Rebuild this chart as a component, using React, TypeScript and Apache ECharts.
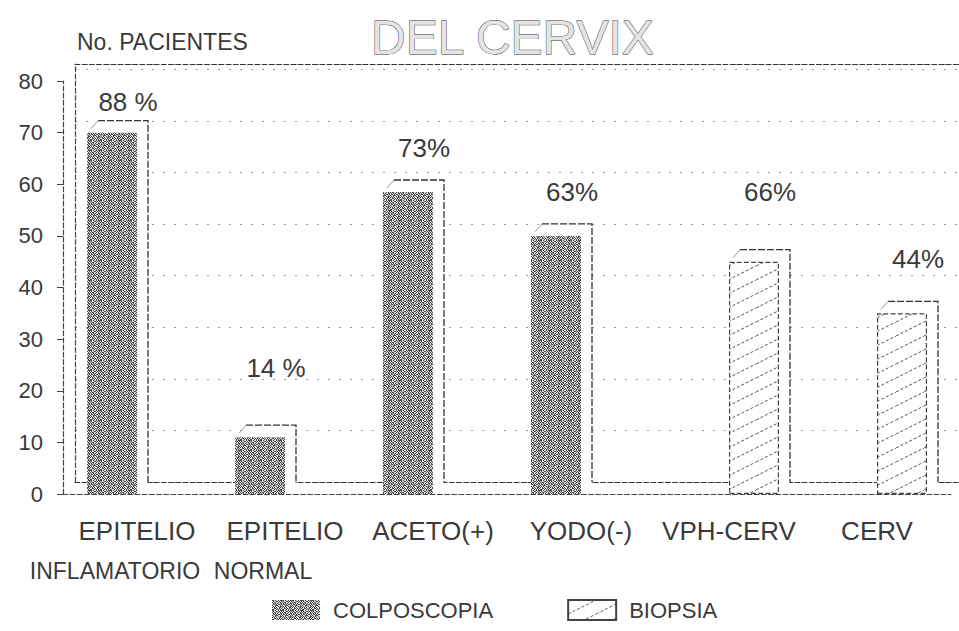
import { useEffect, useRef } from 'react';
import * as echarts from 'echarts';

// ---- data ----
const categories = ['EPITELIO\nINFLAMATORIO', 'EPITELIO\nNORMAL', 'ACETO(+)', 'YODO(-)', 'VPH-CERV', 'CERV'];
const colposcopia: (number | null)[] = [70, 11, 58.5, 50, null, null];
const biopsia: (number | null)[] = [null, null, null, null, 45, 35];
const pctLabels = ['88 %', '14 %', '73%', '63%', '66%', '44%'];
// axis value at which each percentage label sits
const pctLabelLevel = [76, 24.5, 67, 58.5, 58.5, 45.5];
const yMax = 80;
const yInterval = 10;

const FONT = '"Liberation Sans", Arial, sans-serif';
const BAR_W = 50;
const DX = 11;
const DY = 12;

const STIPPLE = [
  '1101001011',
  '0100110101',
  '1011001010',
  '0101010011',
  '0110101101',
  '1001110010',
  '0101001011',
  '1010100110',
  '0011010101',
  '1100101010',
];

function makeStipple(): HTMLCanvasElement {
  const c = document.createElement('canvas');
  c.width = STIPPLE[0].length;
  c.height = STIPPLE.length;
  const ctx = c.getContext('2d')!;
  ctx.fillStyle = '#dcdcdc';
  ctx.fillRect(0, 0, c.width, c.height);
  ctx.fillStyle = '#4a4a4a';
  STIPPLE.forEach((row, y) => {
    row.split('').forEach((ch, x) => {
      if (ch === '1') ctx.fillRect(x, y, 1, 1);
    });
  });
  return c;
}

function makeHatch(): HTMLCanvasElement {
  const c = document.createElement('canvas');
  c.width = 28;
  c.height = 14;
  const ctx = c.getContext('2d')!;
  ctx.fillStyle = '#ffffff';
  ctx.fillRect(0, 0, 28, 14);
  ctx.strokeStyle = '#555';
  ctx.lineWidth = 1;
  ctx.setLineDash([3, 2]);
  ctx.beginPath();
  ctx.moveTo(0, 14);
  ctx.lineTo(28, 0);
  ctx.stroke();
  return c;
}

export default function App() {
  const ref = useRef<HTMLDivElement>(null);

  useEffect(() => {
    document.body.style.margin = '0';
    if (!ref.current) return;
    const chart = echarts.init(ref.current, undefined, { renderer: 'svg' });

    const stipple = makeStipple();
    const hatch = makeHatch();
    const stipplePattern: any = {
      image: stipple,
      repetition: 'repeat',
      imageWidth: stipple.width,
      imageHeight: stipple.height,
    };
    const hatchPattern: any = {
      image: hatch,
      repetition: 'repeat',
      imageWidth: hatch.width,
      imageHeight: hatch.height,
    };

    const boxData = categories.map((_, i) => {
      const c = colposcopia[i];
      const b = biopsia[i];
      return c != null ? [i, c, -1, pctLabelLevel[i]] : [i, b as number, 1, pctLabelLevel[i]];
    });

    const option: any = {
      animation: false,
      backgroundColor: '#ffffff',
      title: [
        {
          text: 'DEL CERVIX',
          left: 366,
          top: 8,
          textStyle: {
            fontFamily: FONT,
            fontSize: 48,
            fontWeight: 'normal',
            color: '#e4e4e4',
            textBorderColor: '#333',
            textBorderWidth: 0.9,
          },
        },
        {
          text: 'No. PACIENTES',
          left: 72,
          top: 25,
          textStyle: { fontFamily: FONT, fontSize: 23, fontWeight: 'normal', color: '#3a3a3a' },
        },
      ],
      legend: {
        data: ['COLPOSCOPIA', 'BIOPSIA'],
        left: 267,
        top: 594,
        itemWidth: 48,
        itemHeight: 20,
        itemGap: 74,
        icon: 'rect',
        textStyle: { fontFamily: FONT, fontSize: 22, color: '#3a3a3a', padding: [0, 0, 0, 8] },
      },
      grid: [
        { left: 63, right: 8, top: 81, bottom: 137 },
        { left: 75, right: 0, top: 64, bottom: 149 },
      ],
      xAxis: [
        {
          type: 'category',
          gridIndex: 0,
          data: categories,
          axisLine: { lineStyle: { color: '#444', type: 'dashed', width: 1.2 } },
          axisTick: { alignWithLabel: true, length: 9, lineStyle: { color: '#555' } },
          axisLabel: {
            interval: 0,
            margin: 17,
            formatter: (v: string) => {
              const [a, b] = v.split('\n');
              return b ? `{a|${a}}\n{b|${b}}` : `{a|${a}}`;
            },
            rich: {
              a: { fontFamily: FONT, fontSize: 26, lineHeight: 40, color: '#3a3a3a' },
              b: { fontFamily: FONT, fontSize: 23, lineHeight: 40, color: '#3a3a3a', padding: [0, 44, 0, 0] },
            },
          },
          splitLine: { show: false },
          z: 1,
        },
        {
          type: 'value',
          gridIndex: 1,
          min: 0,
          max: 1,
          axisLine: { show: true, lineStyle: { color: '#333', type: 'dashed', width: 1.2 } },
          axisTick: { show: false },
          axisLabel: { show: false },
          splitLine: { show: false },
          z: 0,
        },
        {
          type: 'value',
          gridIndex: 1,
          position: 'top',
          min: 0,
          max: 1,
          axisLine: { show: true, lineStyle: { color: '#333', type: 'dashed', width: 1.2 } },
          axisTick: { show: false },
          axisLabel: { show: false },
          splitLine: { show: false },
          z: 0,
        },
      ],
      yAxis: [
        {
          type: 'value',
          gridIndex: 0,
          min: 0,
          max: yMax,
          interval: yInterval,
          axisLine: { show: true, lineStyle: { color: '#444', type: 'dashed', width: 1.2 } },
          axisTick: { show: true, length: 6, lineStyle: { color: '#444' } },
          axisLabel: { margin: 20, fontFamily: FONT, fontSize: 22, color: '#3a3a3a' },
          splitLine: { show: false },
          z: 1,
        },
        {
          type: 'value',
          gridIndex: 1,
          min: 0,
          max: 81,
          interval: yInterval,
          axisLine: { show: true, lineStyle: { color: '#444', type: 'dashed', width: 1.2 } },
          axisTick: { show: false },
          axisLabel: { show: false },
          splitLine: { show: true, lineStyle: { color: '#9a9a9a', type: [2, 9], width: 1 } },
          z: 0,
        },
      ],
      series: [
        {
          type: 'custom',
          name: 'box',
          xAxisIndex: 0,
          yAxisIndex: 0,
          z: 2,
          data: boxData,
          renderItem: (params: any, api: any) => {
            const i = api.value(0);
            const v = api.value(1);
            const side = api.value(2);
            const lvl = api.value(3);
            const top = api.coord([i, v]);
            const base = api.coord([i, 0]);
            const x0 = side < 0 ? top[0] - BAR_W : top[0];
            const x1 = x0 + BAR_W;
            const ty = top[1];
            const by = base[1];
            const lab = api.coord([i, lvl]);
            return {
              type: 'group',
              children: [
                {
                  type: 'polygon',
                  shape: {
                    points: [
                      [x0, ty],
                      [x0 + DX, ty - DY],
                      [x1 + DX, ty - DY],
                      [x1 + DX, by - DY],
                      [x1, by],
                      [x0, by],
                    ],
                  },
                  style: { fill: '#ffffff' },
                },
                {
                  type: 'polyline',
                  shape: {
                    points: [
                      [x0 + DX, ty - DY],
                      [x1 + DX, ty - DY],
                      [x1 + DX, by - DY],
                    ],
                  },
                  style: { stroke: '#333', lineWidth: 1.3, lineDash: [7, 2], fill: null },
                },
                {
                  type: 'line',
                  shape: { x1: x0 + 4, y1: ty - 4, x2: x0 + DX, y2: ty - DY },
                  style: { stroke: '#999', lineWidth: 1 },
                },
                {
                  type: 'text',
                  x: (x0 + x1) / 2 + 16,
                  y: lab[1],
                  style: {
                    text: pctLabels[params.dataIndex],
                    font: `26px ${FONT}`,
                    fill: '#3a3a3a',
                    align: 'center',
                    verticalAlign: 'middle',
                  },
                },
              ],
            };
          },
        },
        {
          type: 'bar',
          name: 'COLPOSCOPIA',
          xAxisIndex: 0,
          yAxisIndex: 0,
          data: colposcopia,
          barWidth: BAR_W,
          barGap: '0%',
          z: 3,
          itemStyle: { color: stipplePattern },
        },
        {
          type: 'bar',
          name: 'BIOPSIA',
          xAxisIndex: 0,
          yAxisIndex: 0,
          data: biopsia,
          barWidth: BAR_W,
          barGap: '0%',
          z: 3,
          itemStyle: { color: hatchPattern, borderColor: '#444', borderWidth: 1.2, borderType: 'dashed' },
        },
      ],
    };

    chart.setOption(option);
    return () => chart.dispose();
  }, []);

  return <div ref={ref} style={{ width: 959, height: 631 }} />;
}
